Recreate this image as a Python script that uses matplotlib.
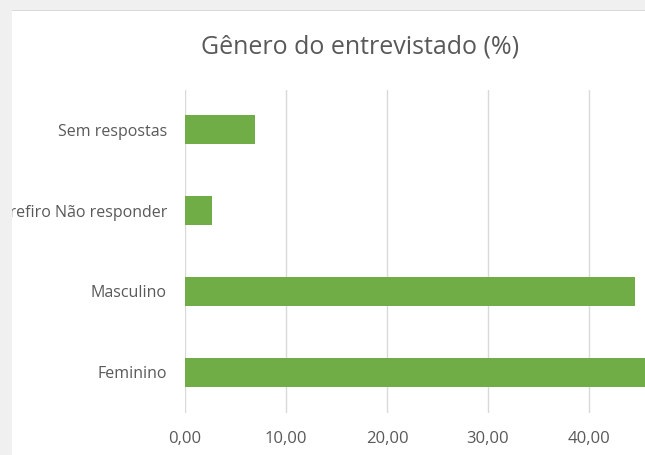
import matplotlib
matplotlib.use("Agg")
import matplotlib.pyplot as plt
from matplotlib.patches import Rectangle

# dados
categorias = ["Feminino", "Masculino", "Prefiro Não responder", "Sem respostas"]
percentuais = [45.85, 44.55, 2.67, 6.93]
ticks_x = [0, 10, 20, 30, 40]

plt.rcParams["font.family"] = ["Open Sans", "DejaVu Sans"]
cinza_txt = "#595959"

W, H = 645, 455
fig = plt.figure(figsize=(W / 100, H / 100), dpi=100, facecolor="white")

# área do gráfico (pixels convertidos para fração da figura)
x0, y_top, y_bot = 185, 89.5, 412.5
px_por_unid = 10.1
ax = fig.add_axes([x0 / W, (H - y_bot) / H, 50 * px_por_unid / W, (y_bot - y_top) / H])
ax.barh(range(len(categorias)), percentuais, height=0.36, color="#70ad47", zorder=3)
ax.set_xlim(0, 50)
ax.set_ylim(-0.5, len(categorias) - 0.5)
ax.set_yticks(range(len(categorias)))
ax.set_yticklabels(categorias)
ax.set_xticks(ticks_x)
ax.set_xticklabels([f"{t:.2f}".replace(".", ",") for t in ticks_x])
ax.xaxis.grid(True, color="#d9d9d9", lw=1.0, zorder=0)
for gx in (50,):
    ax.axvline(gx, color="#d9d9d9", lw=1.0, zorder=0)
for s in ax.spines.values():
    s.set_visible(False)
ax.tick_params(axis="both", length=0, labelcolor=cinza_txt)
ax.tick_params(axis="y", pad=13, labelsize=11.5)
ax.tick_params(axis="x", pad=13, labelsize=12)

fig.text(360 / W, 1 - 47 / H, "Gênero do entrevistado (%)", ha="center", va="center",
         fontsize=18, color=cinza_txt)

# moldura cinza da captura (cobre parte do rótulo à esquerda)
fig.patches.append(Rectangle((0, 0), 12 / W, 1, transform=fig.transFigure,
                             facecolor="#f0f0f0", edgecolor="none", zorder=10))
fig.patches.append(Rectangle((0, 1 - 10 / H), 1, 10 / H, transform=fig.transFigure,
                             facecolor="#f0f0f0", edgecolor="none", zorder=10))
fig.patches.append(Rectangle((12 / W, 1 - 11 / H), 1, 1.2 / H, transform=fig.transFigure,
                             facecolor="#d9d9d9", edgecolor="none", zorder=11))

fig.savefig("out.png", dpi=100)
